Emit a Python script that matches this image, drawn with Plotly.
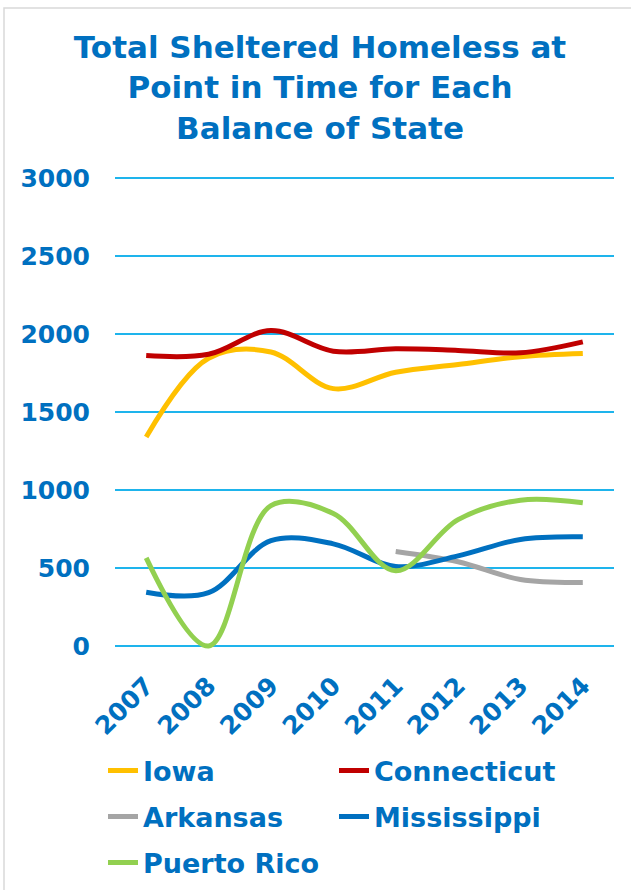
import plotly.graph_objects as go

years = ["2007", "2008", "2009", "2010", "2011", "2012", "2013", "2014"]
iowa = [1340, 1845, 1885, 1650, 1755, 1805, 1855, 1875]
connecticut = [1862, 1870, 2022, 1890, 1905, 1895, 1880, 1950]
arkansas = [None, None, None, None, 606, 540, 426, 407]
mississippi = [345, 342, 675, 655, 510, 578, 683, 700]
puerto_rico = [565, 0, 900, 850, 482, 810, 935, 918]
y_ticks = [0, 500, 1000, 1500, 2000, 2500, 3000]

TEXT_BLUE = "#0070C0"
FONT = "DejaVu Sans"

W, H = 631, 890
ML, MR, MT, MB = 115, 17, 176, 239
PW, PH = W - ML - MR, H - MT - MB


def px_to_paper_x(px):
    return (px - ML) / PW


def px_to_paper_y(py):
    return (H - MB - py) / PH


series = [
    ("Iowa", iowa, "#FFC000", "legend"),
    ("Connecticut", connecticut, "#C00000", "legend"),
    ("Arkansas", arkansas, "#A5A5A5", "legend2"),
    ("Mississippi", mississippi, "#0070C0", "legend2"),
    ("Puerto Rico", puerto_rico, "#92D050", "legend3"),
]

fig = go.Figure()
for name, vals, color, lg in series:
    fig.add_trace(go.Scatter(
        x=years, y=vals, name=name, mode="lines",
        line=dict(color=color, width=5, shape="spline", smoothing=1),
        connectgaps=False, legend=lg,
    ))

legend_common = dict(
    orientation="h", xanchor="left", yanchor="middle",
    xref="container", yref="container",
    font=dict(family=FONT, size=27, color=TEXT_BLUE, weight="bold"),
    entrywidth=186, bgcolor="rgba(0,0,0,0)", borderwidth=0,
    itemclick=False, itemdoubleclick=False,
)

fig.update_layout(
    width=W, height=H, autosize=False,
    margin=dict(l=ML, r=MR, t=MT, b=MB),
    paper_bgcolor="white", plot_bgcolor="white",
    title=dict(
        text="Total Sheltered Homeless at<br>Point in Time for Each<br>Balance of State",
        font=dict(family=FONT, size=31, color=TEXT_BLUE, weight="bold"),
        x=320 / W, xanchor="center", xref="container",
        y=1 - 58 / H, yanchor="middle", yref="container",
    ),
    xaxis=dict(
        type="category", range=[-0.5, 7.5], showgrid=False, zeroline=False,
        showline=False, tickangle=-45, ticks="", automargin=False,
        tickfont=dict(family=FONT, size=25, color=TEXT_BLUE, weight="bold"),
        ticklabelstandoff=14,
    ),
    yaxis=dict(
        range=[-32, 3013], tickvals=y_ticks, ticktext=[str(v) for v in y_ticks],
        showgrid=True, gridcolor="#1EB4EC", gridwidth=1.5,
        zeroline=False, showline=False, ticks="", automargin=False,
        tickfont=dict(family=FONT, size=25, color=TEXT_BLUE, weight="bold"),
        ticklabelstandoff=24,
    ),
    legend=dict(legend_common, x=103 / W, y=1 - 771 / H),
    legend2=dict(legend_common, x=103 / W, y=1 - 817 / H),
    legend3=dict(legend_common, x=103 / W, y=1 - 863 / H),
    showlegend=True,
    shapes=[dict(
        type="rect", xref="paper", yref="paper",
        x0=px_to_paper_x(4), x1=px_to_paper_x(W + 20),
        y0=px_to_paper_y(H + 20), y1=px_to_paper_y(8),
        line=dict(color="#D9D9D9", width=1.5), fillcolor="rgba(0,0,0,0)",
        layer="below",
    )],
)

fig.write_html("out.html")
